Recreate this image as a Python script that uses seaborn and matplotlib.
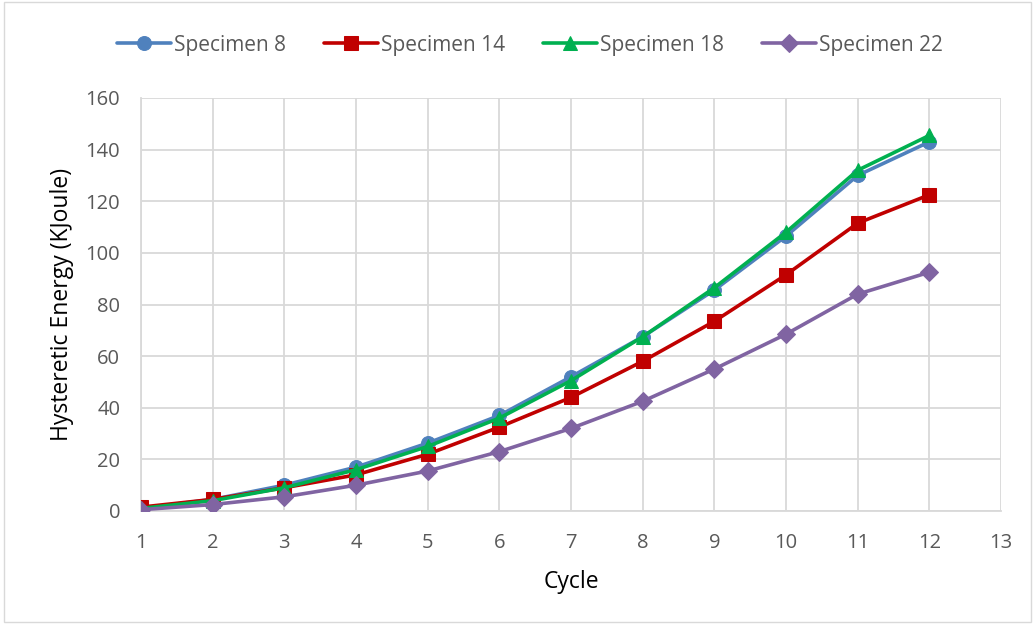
import matplotlib
matplotlib.use("Agg")
import matplotlib.pyplot as plt
import seaborn as sns
import pandas as pd
from matplotlib.patches import Rectangle

cycles = [1, 2, 3, 4, 5, 6, 7, 8, 9, 10, 11, 12]
specimen_8 = [1.0, 4.5, 10.0, 17.0, 26.3, 37.0, 52.0, 67.5, 85.6, 106.5, 130.0, 143.0]
specimen_14 = [1.5, 4.5, 9.0, 14.0, 22.0, 32.5, 44.0, 58.0, 73.5, 91.5, 111.5, 122.5]
specimen_18 = [1.0, 4.0, 9.0, 16.0, 25.0, 36.0, 50.5, 67.5, 86.5, 108.0, 132.0, 145.5]
specimen_22 = [0.5, 2.5, 5.5, 10.0, 15.5, 23.0, 32.0, 42.5, 55.0, 68.5, 84.0, 92.5]

series_names = ["Specimen 8", "Specimen 14", "Specimen 18", "Specimen 22"]
series_values = [specimen_8, specimen_14, specimen_18, specimen_22]
colors = ["#4F81BD", "#C00000", "#00B050", "#8064A2"]
markers = ["o", "s", "^", "D"]
marker_sizes = [10, 10, 10, 9]

rows = []
for name, vals in zip(series_names, series_values):
    for c, v in zip(cycles, vals):
        rows.append({"Cycle": c, "Energy": v, "Series": name})
df = pd.DataFrame(rows)

sns.set_style("white")
plt.rcParams["font.family"] = ["Open Sans", "DejaVu Sans"]

fig = plt.figure(figsize=(10.35, 6.24), dpi=100)
ax = fig.add_axes([141 / 1035, 1 - 511 / 624, (1001 - 141) / 1035, (511 - 98) / 624])

for name, col, mk, ms in zip(series_names, colors, markers, marker_sizes):
    sub = df[df["Series"] == name]
    sns.lineplot(data=sub, x="Cycle", y="Energy", ax=ax, color=col, marker=mk,
                 markersize=ms, markeredgecolor=col, linewidth=2.6, label=name,
                 zorder=3)

ax.set_xlim(1, 13)
ax.set_ylim(0, 160)
ax.set_xticks(range(1, 14))
ax.set_yticks(range(0, 161, 20))
ax.grid(True, color="#D9D9D9", linewidth=1.3)
for s in ["top", "right"]:
    ax.spines[s].set_visible(False)
for s in ["left", "bottom"]:
    ax.spines[s].set_color("#D9D9D9")
    ax.spines[s].set_linewidth(1.3)
ax.tick_params(axis="both", length=0, labelsize=14.5, colors="#595959")
ax.tick_params(axis="y", pad=15)
ax.tick_params(axis="x", pad=16)
ax.set_xlabel("Cycle", fontsize=16.5, color="black", labelpad=12)
ax.set_ylabel("Hysteretic Energy (KJoule)", fontsize=16.5, color="black", labelpad=8)

handles, labels = ax.get_legend_handles_labels()
ax.legend(handles, labels, loc="center", bbox_to_anchor=(0.512, 1 - 45 / 624),
          bbox_transform=fig.transFigure, ncol=4, frameon=False, fontsize=15,
          handlelength=2.6, columnspacing=1.8, handletextpad=0.15,
          labelcolor="#595959")

fig.patches.append(Rectangle((0.004, 0.004), 0.992, 0.992, transform=fig.transFigure,
                             fill=False, edgecolor="#D9D9D9", linewidth=1))

fig.savefig("out.png", dpi=100, facecolor="white")
